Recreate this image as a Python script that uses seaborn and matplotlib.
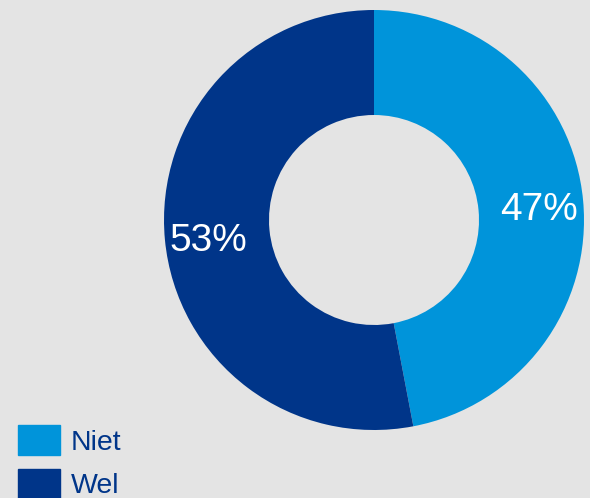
import matplotlib
matplotlib.use('Agg')
import matplotlib.pyplot as plt
import matplotlib.patches as mpatches
import seaborn as sns

# data
labels = ['Niet', 'Wel']
values = [47, 53]
colors = ['#0094DA', '#003589']
bg = '#E4E4E4'

sns.set_theme(style='white')
plt.rcParams['font.family'] = ['Liberation Sans', 'DejaVu Sans']

fig = plt.figure(figsize=(5.9, 4.98), dpi=100, facecolor=bg)
# donut box in pixels: center (374, 220), radius 210
ax = fig.add_axes([164 / 590, (498 - 430) / 498, 420 / 590, 420 / 498])
ax.set_facecolor(bg)

wedges, texts, autotexts = ax.pie(
    values, colors=colors, startangle=90, counterclock=False,
    radius=1.0, wedgeprops=dict(width=0.5, linewidth=0),
    autopct=lambda p: f'{p:.0f}%', pctdistance=0.79,
    textprops=dict(color='white', fontsize=28))
# labels sit a little lower in the reference
for t in autotexts:
    x, y = t.get_position()
    t.set_position((x, y - 0.025))
ax.set_xlim(-1, 1)
ax.set_ylim(-1, 1)
ax.set_aspect('equal')
ax.axis('off')

handles = [mpatches.Patch(color=c, label=l) for c, l in zip(colors, labels)]
leg = fig.legend(handles=handles, loc='lower left', bbox_to_anchor=(18 / 590, -0.002),
                 frameon=False, fontsize=20.5, handlelength=1.47, handleheight=1.22,
                 labelspacing=0.45, handletextpad=0.38, borderpad=0, borderaxespad=0)
for t in leg.get_texts():
    t.set_color('#003589')

fig.savefig('out.png', dpi=100, facecolor=bg)
